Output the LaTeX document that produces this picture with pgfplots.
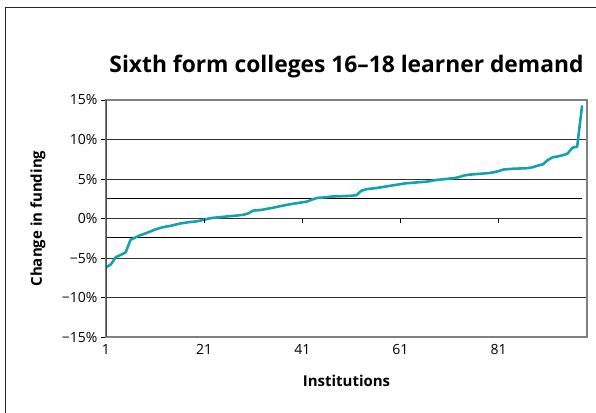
\documentclass[border=0pt]{standalone}
\usepackage{fontspec}
\setmainfont{Open Sans}
\usepackage{pgfplots}
\pgfplotsset{compat=1.18}
\usepackage{pgfplotstable}
\definecolor{tealline}{RGB}{20,162,176}
\pgfplotstableread{
i v
1 -6.2
2 -5.8
3 -4.9
4 -4.6
5 -4.3
6 -2.7
7 -2.4
8 -2.1
9 -1.9
10 -1.65
11 -1.4
12 -1.2
13 -1.05
14 -0.95
15 -0.8
16 -0.65
17 -0.55
18 -0.45
19 -0.4
20 -0.3
21 -0.15
22 0.0
23 0.1
24 0.15
25 0.22
26 0.28
27 0.33
28 0.4
29 0.47
30 0.65
31 1.0
32 1.05
33 1.12
34 1.25
35 1.35
36 1.5
37 1.62
38 1.75
39 1.85
40 1.95
41 2.05
42 2.15
43 2.4
44 2.6
45 2.65
46 2.7
47 2.78
48 2.8
49 2.82
50 2.85
51 2.88
52 2.95
53 3.5
54 3.7
55 3.78
56 3.85
57 3.95
58 4.05
59 4.15
60 4.25
61 4.35
62 4.45
63 4.5
64 4.55
65 4.6
66 4.65
67 4.72
68 4.85
69 4.92
70 4.98
71 5.05
72 5.12
73 5.25
74 5.45
75 5.55
76 5.6
77 5.65
78 5.7
79 5.75
80 5.85
81 6.0
82 6.2
83 6.25
84 6.3
85 6.32
86 6.35
87 6.38
88 6.5
89 6.7
90 6.85
91 7.4
92 7.75
93 7.85
94 8.0
95 8.2
96 8.95
97 9.1
98 14.3
}\fundingdata
\pgfplotstableread{
i v
1 2.55
98 2.55
}\upperband
\pgfplotstableread{
i v
1 -2.4
98 -2.4
}\lowerband
\begin{document}
\begin{tikzpicture}
\path[use as bounding box] (-106pt,-75pt) rectangle (490pt,337pt);
\draw[black!85, line width=1pt] (-100pt,-80pt) -- (-100pt,329pt) -- (495pt,329pt);
\begin{axis}[
  at={(0,0)}, anchor=south west,
  scale only axis, width=481pt, height=237pt,
  xmin=1, xmax=99, ymin=-15, ymax=15,
  axis line style={draw=black!50, line width=1.3pt},
  ytick={-15,-10,-5,0,5,10,15},
  yticklabels={−15\%,−10\%,−5\%,0\%,5\%,10\%,15\%},
  xtick={1,21,41,61,81},
  xticklabels={1,21,41,61,81},
  ytick pos=left, xtick pos=bottom,
  tick align=outside, major tick length=5pt,
  y tick style={black, line width=0.8pt},
  x tick style={draw=none},
  ymajorgrids, grid style={black!80, line width=0.7pt},
  tick label style={font=\fontsize{14}{16}\selectfont},
  xticklabel style={yshift=1pt},
  xlabel={Institutions}, ylabel={Change in funding},
  label style={font=\bfseries\fontsize{15}{18}\selectfont},
  xlabel style={at={(axis description cs:0.5,-0.1857)}, anchor=center},
  ylabel style={at={(axis description cs:-0.1414,0.5)}, anchor=center},
  title={Sixth form colleges 16–18 learner demand},
  title style={font=\bfseries\fontsize{22.8}{26}\selectfont, at={(axis description cs:0.5,1.0928)}, anchor=base, inner sep=0pt},
]
\addplot[black, line width=0.9pt] table[x=i,y=v] {\upperband};
\addplot[black, line width=0.9pt] table[x=i,y=v] {\lowerband};
\addplot[tealline, line width=2.6pt, line join=round] table[x=i,y=v] {\fundingdata};
\pgfplotsinvokeforeach{21,41,61,81}{\draw[black, line width=0.8pt] (axis cs:#1,0) -- ++(0pt,-4pt);}
\draw[black!70, line width=1.6pt] (rel axis cs:0,0) -- (rel axis cs:0,1);
\end{axis}
\end{tikzpicture}
\end{document}
